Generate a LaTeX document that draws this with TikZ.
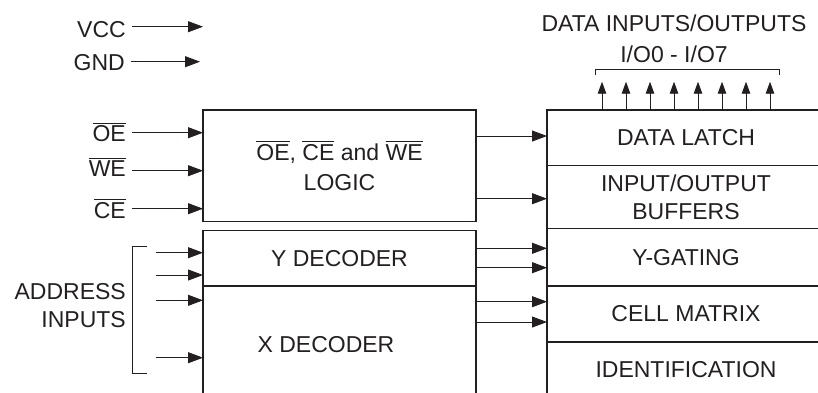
\documentclass[tikz,border=0pt]{standalone}
\usepackage{fontspec}
\setmainfont{Liberation Sans}
\usetikzlibrary{arrows.meta}
\definecolor{ink}{RGB}{35,31,32}
\newcommand\ovl[1]{\leavevmode\vbox{\hrule height 1pt\kern 2pt\hbox{#1}}}
\tikzset{
  blk/.style={draw=ink, line width=1.5pt, anchor=north west, outer sep=0pt, inner sep=0pt, align=center, text=ink},
  lbl/.style={text=ink, inner ysep=0pt, inner xsep=0pt},
  inlbl/.style={text=ink, inner ysep=0pt, inner xsep=6pt, anchor=base east},
  arr/.style={draw=ink, line width=0.9pt, -{Triangle[length=15pt,width=11pt]}},
  uparr/.style={draw=ink, line width=0.9pt, -{Triangle[length=12pt,width=8.5pt]}},
  brk/.style={draw=ink, line width=0.9pt},
}
\begin{document}
\begin{tikzpicture}[x=1pt,y=-1pt,font=\fontsize{23}{28}\selectfont]
\useasboundingbox (0,0) rectangle (818,392);
\clip (0,0) rectangle (818,392);

% left column boxes
\node[blk, minimum width=273pt, minimum height=111.5pt, font=\fontsize{23}{30}\selectfont] (logic) at (203,110) {\ovl{OE}, \ovl{CE} and \ovl{WE}\\LOGIC};
\node[blk, minimum width=273pt, minimum height=55.3pt] (ydec) at (203,230.7) {Y DECODER};
\node[blk, minimum width=273pt, minimum height=120pt] (xdec) at (203,286) {};
\node[lbl] (xdtext) at (326,344.7) {X DECODER};

% right column boxes
\node[blk, minimum width=278pt, minimum height=55.7pt] (latch) at (547,110) {DATA LATCH};
\node[blk, minimum width=278pt, minimum height=63pt, font=\fontsize{23}{28.4}\selectfont] (buf) at (547,165.7) {INPUT/OUTPUT\\BUFFERS};
\node[blk, minimum width=278pt, minimum height=57.3pt] (ygate) at (547,228.7) {Y-GATING};
\node[blk, minimum width=278pt, minimum height=56pt] (cell) at (547,286) {CELL MATRIX};
\node[blk, minimum width=278pt, minimum height=56pt] (ident) at (547,342) {IDENTIFICATION};

% top label and I/O arrows
\node[lbl, align=center, font=\fontsize{23}{31.6}\selectfont] (dio) at (674,38.7) {DATA INPUTS/OUTPUTS\\I/O0 - I/O7};
\draw[brk] (595,75) -- (595,69.3) -- (779,69.3) -- (779,75);
\foreach \i in {0,...,7}{
  \coordinate (io\i) at ({602+24*\i},81.7);
  \draw[uparr] (latch.north -| io\i) -- (io\i);
}

% supply inputs
\node[inlbl] (vcc) at (132,37.3) {VCC};
\node[inlbl] (gnd) at (131,70.7) {GND};
\coordinate (vccend) at (203,26.7);
\coordinate (gndend) at (200,61.7);
\draw[arr] (vcc.east |- vccend) -- (vccend);
\draw[arr] (gnd.east |- gndend) -- (gndend);

% control inputs
\node[inlbl] (oe) at (132,141.7) {\ovl{OE}};
\node[inlbl] (we) at (132,176.7) {\ovl{WE}};
\node[inlbl] (ce) at (132,218) {\ovl{CE}};
\coordinate (yoe) at (0,132.7);
\coordinate (ywe) at (0,170.7);
\coordinate (yce) at (0,208.7);
\draw[arr] (oe.east |- yoe) -- (logic.west |- yoe);
\draw[arr] (we.east |- ywe) -- (logic.west |- ywe);
\draw[arr] (ce.east |- yce) -- (logic.west |- yce);

% address inputs
\node[lbl, anchor=east, align=right, font=\fontsize{23}{28.3}\selectfont] (addr) at (126,305.8) {ADDRESS\\INPUTS};
\draw[brk] (146.7,246.3) -- (132.3,246.3) -- (132.3,373.3) -- (146.7,373.3);
\coordinate (a1) at (155.7,252.7);
\coordinate (a2) at (155.7,275);
\coordinate (a3) at (155.7,300.3);
\coordinate (a4) at (155.7,357.7);
\draw[arr] (a1) -- (ydec.west |- a1);
\draw[arr] (a2) -- (ydec.west |- a2);
\draw[arr] (a3) -- (xdec.west |- a3);
\draw[arr] (a4) -- (xdec.west |- a4);

% internal connections
\coordinate (r1) at (0,136);
\coordinate (r2) at (0,198.7);
\coordinate (r3) at (0,248.3);
\coordinate (r4) at (0,267.7);
\coordinate (r5) at (0,301.7);
\coordinate (r6) at (0,322);
\draw[arr] (logic.east |- r1) -- (latch.west |- r1);
\draw[arr] (logic.east |- r2) -- (buf.west |- r2);
\draw[arr] (ydec.east |- r3) -- (ygate.west |- r3);
\draw[arr] (ydec.east |- r4) -- (ygate.west |- r4);
\draw[arr] (xdec.east |- r5) -- (cell.west |- r5);
\draw[arr] (xdec.east |- r6) -- (cell.west |- r6);
\end{tikzpicture}
\end{document}
